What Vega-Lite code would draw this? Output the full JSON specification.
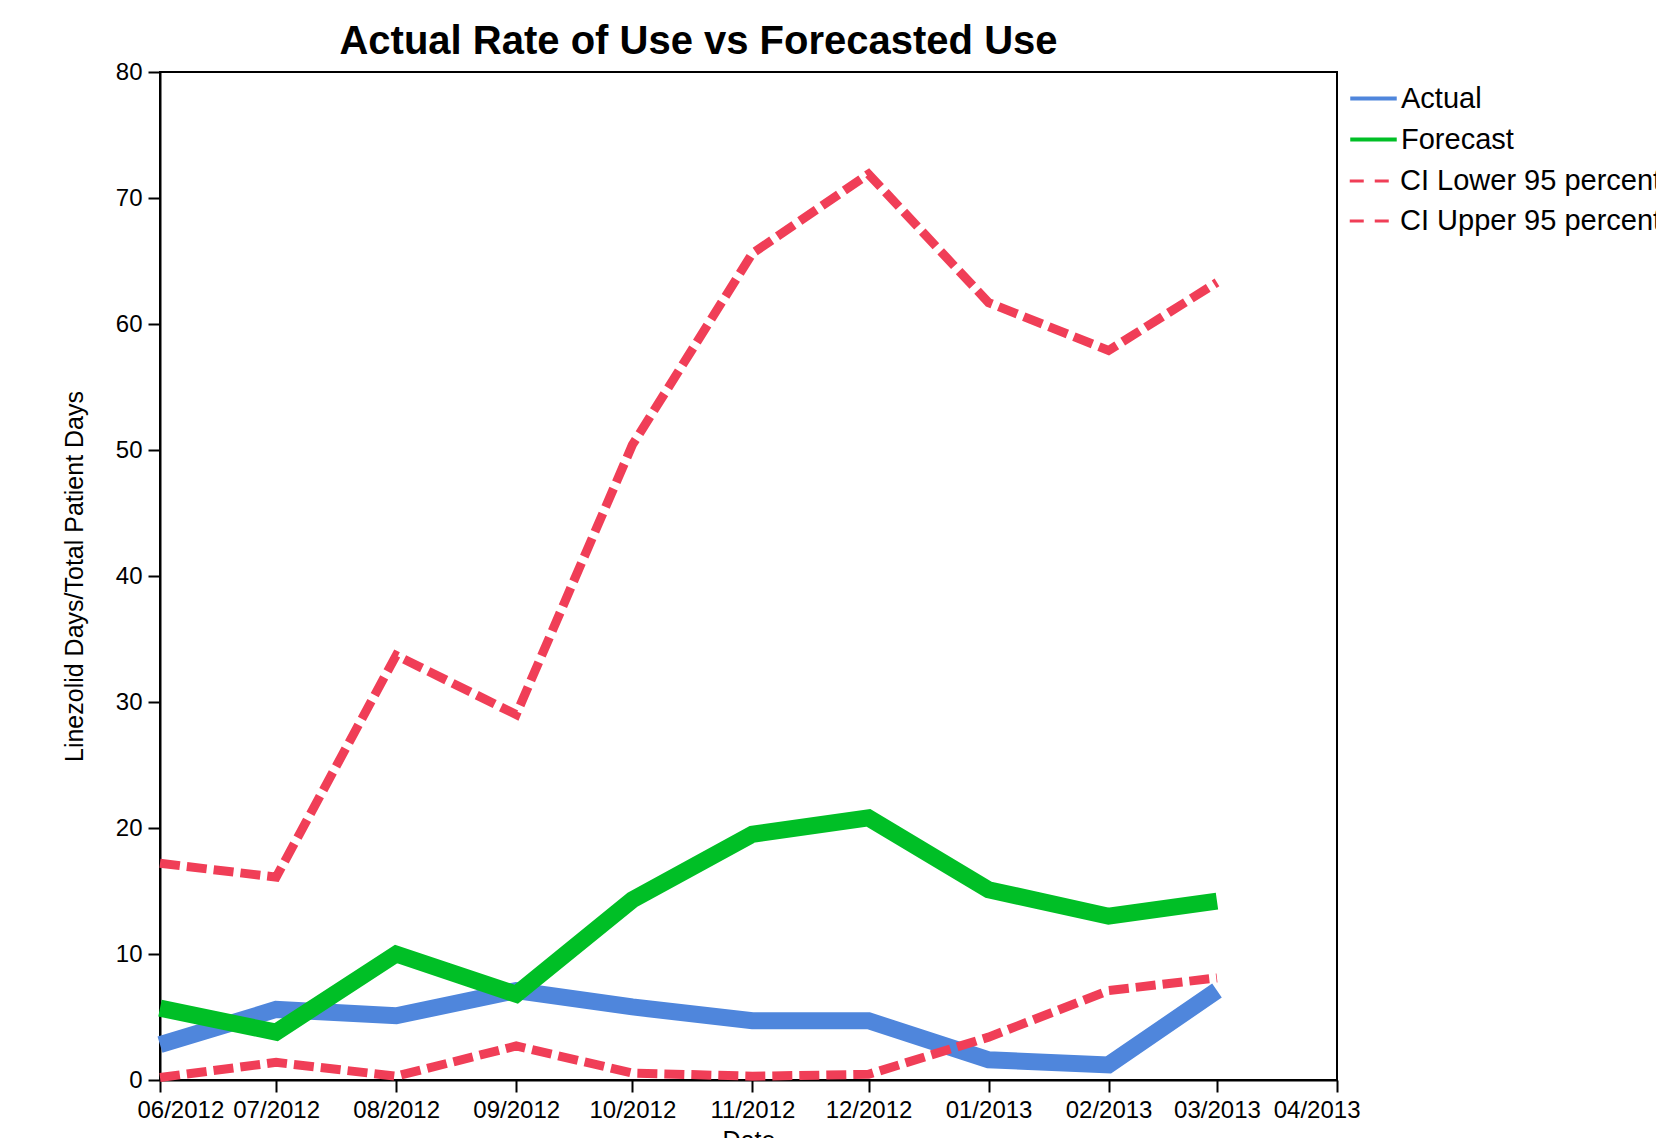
{
  "$schema": "https://vega.github.io/schema/vega-lite/v6.json",
  "autosize": {"type": "none"},
  "width": 1177,
  "height": 1008,
  "padding": {"left": 160, "top": 72, "right": 319, "bottom": 58},
  "background": "white",
  "title": {
    "text": "Actual Rate of Use vs Forecasted Use",
    "anchor": "middle",
    "dx": -50,
    "offset": -2,
    "font": "Liberation Sans",
    "fontSize": 40,
    "fontWeight": "bold",
    "color": "black"
  },
  "data": {
    "values": [
      {"date": "2012-06-01", "series": "Actual", "rate": 2.8},
      {"date": "2012-07-01", "series": "Actual", "rate": 5.6},
      {"date": "2012-08-01", "series": "Actual", "rate": 5.1},
      {"date": "2012-09-01", "series": "Actual", "rate": 7.1},
      {"date": "2012-10-01", "series": "Actual", "rate": 5.8},
      {"date": "2012-11-01", "series": "Actual", "rate": 4.7},
      {"date": "2012-12-01", "series": "Actual", "rate": 4.7},
      {"date": "2013-01-01", "series": "Actual", "rate": 1.6},
      {"date": "2013-02-01", "series": "Actual", "rate": 1.2},
      {"date": "2013-03-01", "series": "Actual", "rate": 7.1},
      {"date": "2012-06-01", "series": "Forecast", "rate": 5.7},
      {"date": "2012-07-01", "series": "Forecast", "rate": 3.8},
      {"date": "2012-08-01", "series": "Forecast", "rate": 10.0},
      {"date": "2012-09-01", "series": "Forecast", "rate": 6.8},
      {"date": "2012-10-01", "series": "Forecast", "rate": 14.3},
      {"date": "2012-11-01", "series": "Forecast", "rate": 19.5},
      {"date": "2012-12-01", "series": "Forecast", "rate": 20.8},
      {"date": "2013-01-01", "series": "Forecast", "rate": 15.1},
      {"date": "2013-02-01", "series": "Forecast", "rate": 13.0},
      {"date": "2013-03-01", "series": "Forecast", "rate": 14.2},
      {"date": "2012-06-01", "series": "CI Lower 95 percent", "rate": 0.2},
      {"date": "2012-07-01", "series": "CI Lower 95 percent", "rate": 1.4},
      {"date": "2012-08-01", "series": "CI Lower 95 percent", "rate": 0.3},
      {"date": "2012-09-01", "series": "CI Lower 95 percent", "rate": 2.7},
      {"date": "2012-10-01", "series": "CI Lower 95 percent", "rate": 0.55},
      {"date": "2012-11-01", "series": "CI Lower 95 percent", "rate": 0.3},
      {"date": "2012-12-01", "series": "CI Lower 95 percent", "rate": 0.45},
      {"date": "2013-01-01", "series": "CI Lower 95 percent", "rate": 3.4},
      {"date": "2013-02-01", "series": "CI Lower 95 percent", "rate": 7.1},
      {"date": "2013-03-01", "series": "CI Lower 95 percent", "rate": 8.1},
      {"date": "2012-06-01", "series": "CI Upper 95 percent", "rate": 17.2},
      {"date": "2012-07-01", "series": "CI Upper 95 percent", "rate": 16.1},
      {"date": "2012-08-01", "series": "CI Upper 95 percent", "rate": 33.7},
      {"date": "2012-09-01", "series": "CI Upper 95 percent", "rate": 29.0},
      {"date": "2012-10-01", "series": "CI Upper 95 percent", "rate": 50.4},
      {"date": "2012-11-01", "series": "CI Upper 95 percent", "rate": 65.6},
      {"date": "2012-12-01", "series": "CI Upper 95 percent", "rate": 71.9},
      {"date": "2013-01-01", "series": "CI Upper 95 percent", "rate": 61.7},
      {"date": "2013-02-01", "series": "CI Upper 95 percent", "rate": 57.9},
      {"date": "2013-03-01", "series": "CI Upper 95 percent", "rate": 63.3}
    ]
  },
  "encoding": {
    "x": {
      "field": "date",
      "type": "temporal",
      "title": "Date",
      "scale": {"type": "utc", "domain": ["2012-06-01", "2013-04-01"], "nice": false},
      "axis": {
        "format": "%m/%Y",
        "tickCount": {"interval": "month", "step": 1},
        "labelFlush": true,
        "labelFlushOffset": 23,
        "labelOverlap": false
      }
    },
    "y": {
      "field": "rate",
      "type": "quantitative",
      "title": "Linezolid Days/Total Patient Days",
      "scale": {"domain": [0, 80], "nice": false, "zero": true},
      "axis": {"values": [0, 10, 20, 30, 40, 50, 60, 70, 80]}
    },
    "order": {"field": "date", "type": "temporal"}
  },
  "layer": [
    {
      "transform": [{"filter": "datum.series === 'Actual' || datum.series === 'Forecast'"}],
      "mark": {"type": "line", "strokeWidth": 17, "strokeCap": "butt", "strokeJoin": "miter"},
      "encoding": {
        "color": {
          "field": "series",
          "type": "nominal",
          "sort": ["Actual", "Forecast"],
          "scale": {"domain": ["Actual", "Forecast"], "range": ["#4f86dc", "#00bf26"]},
          "legend": {
            "title": null,
            "orient": "none",
            "legendX": 1188,
            "legendY": 1,
            "padding": 0,
            "symbolType": "stroke",
            "symbolSize": 2162,
            "symbolStrokeWidth": 4,
            "labelFont": "Liberation Sans",
            "labelFontSize": 29,
            "labelColor": "black",
            "labelOffset": 2,
            "rowPadding": -24,
            "labelLimit": 1000
          }
        }
      }
    },
    {
      "transform": [{"filter": "datum.series !== 'Actual' && datum.series !== 'Forecast'"}],
      "mark": {"type": "line", "strokeWidth": 9, "strokeDash": [20, 7], "strokeCap": "butt", "strokeJoin": "miter"},
      "encoding": {
        "stroke": {
          "field": "series",
          "type": "nominal",
          "sort": ["CI Lower 95 percent", "CI Upper 95 percent"],
          "scale": {"domain": ["CI Lower 95 percent", "CI Upper 95 percent"], "range": ["#f03e57", "#f03e57"]},
          "legend": {
            "title": null,
            "orient": "none",
            "legendX": 1188,
            "legendY": 84,
            "padding": 0,
            "symbolType": "stroke",
            "symbolSize": 2162,
            "symbolStrokeWidth": 3,
            "symbolDash": [14, 11],
            "labelFont": "Liberation Sans",
            "labelFontSize": 29,
            "labelColor": "black",
            "labelOffset": 2,
            "rowPadding": -24,
            "labelLimit": 1000,
            "encode": {
              "symbols": {
                "update": {
                  "strokeDash": {"value": [14, 11]},
                  "strokeWidth": {"value": 3}
                }
              }
            }
          }
        }
      }
    }
  ],
  "resolve": {"scale": {"color": "independent", "stroke": "independent"}},
  "config": {
    "font": "Liberation Sans",
    "view": {"stroke": "black", "strokeWidth": 2},
    "axis": {
      "grid": false,
      "domainColor": "black",
      "domainWidth": 2,
      "tickColor": "black",
      "tickWidth": 2,
      "tickSize": 12,
      "labelPadding": 6,
      "labelFont": "Liberation Sans",
      "labelFontSize": 24,
      "labelColor": "black",
      "titleFont": "Liberation Sans",
      "titleFontSize": 25,
      "titleFontWeight": "normal",
      "titleColor": "black"
    },
    "axisY": {"titlePadding": 28},
    "axisX": {"titlePadding": 6}
  }
}
